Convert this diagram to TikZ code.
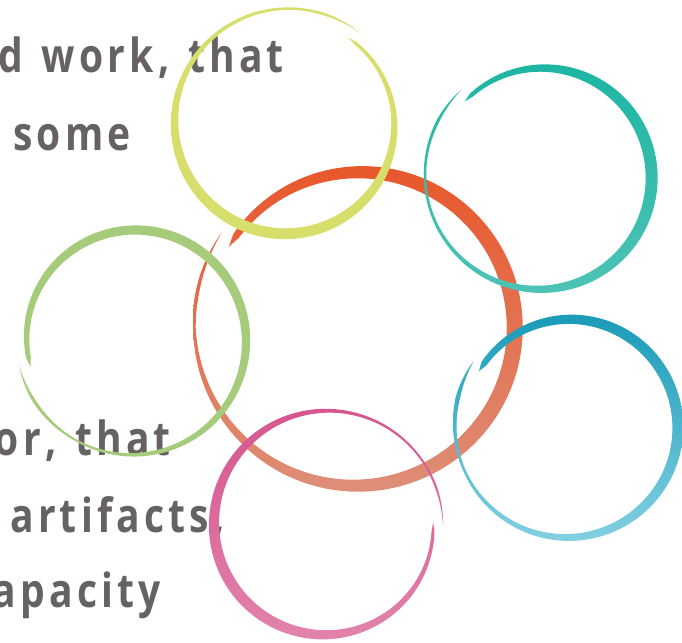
\documentclass[tikz,border=0pt]{standalone}
\usepackage{fontspec}
\newfontfamily\labelfont[FakeStretch=0.83,LetterSpace=9,WordSpace=1.3]{Open Sans}
\definecolor{txtgray}{HTML}{666262}
\definecolor{ringyellow}{HTML}{D7DE6C}
\definecolor{ringteal}{HTML}{1DB6A3}
\definecolor{ringteallight}{HTML}{4EC3B6}
\definecolor{ringblue}{HTML}{1A9BB8}
\definecolor{ringbluelight}{HTML}{82D0E2}
\definecolor{ringorange}{HTML}{E8572B}
\definecolor{ringorangelight}{HTML}{DE8E78}
\definecolor{ringpink}{HTML}{D6558E}
\definecolor{ringpinklight}{HTML}{E283AC}
\definecolor{ringgreen}{HTML}{A6CB7B}
\pgfkeys{/ring/.cd,
  cx/.store in=\rcx, cy/.store in=\rcy, R/.store in=\rR, dr/.store in=\rdr,
  ta/.store in=\rta, tb/.store in=\rtb, wmax/.store in=\rwmax, wmin/.store in=\rwmin,
  tp/.store in=\rtp, pw/.store in=\rpw, ts/.store in=\rts, te/.store in=\rte,
  ts=5, te=20, pw=1}
\newcommand\brushring[2]{%
  \pgfkeys{/ring/.cd,ts=5,te=20,pw=1,#1}%
  \path[#2]
    plot[domain=\rta:\rtb, samples=300, variable=\t, smooth]
      ({\rcx+(rr(\t)+rw(\t)/2)*cos(\t)}, {\rcy+(rr(\t)+rw(\t)/2)*sin(\t)})
    -- plot[domain=\rtb:\rta, samples=300, variable=\t, smooth]
      ({\rcx+(rr(\t)-rw(\t)/2)*cos(\t)}, {\rcy+(rr(\t)-rw(\t)/2)*sin(\t)})
    -- cycle;}
\tikzset{
  lbl/.style={font=\labelfont\bfseries\fontsize{47}{50}\selectfont,
    text=txtgray, inner sep=0pt, anchor=base east},
  declare function={
    rs(\t)=2*(\t-\rta)/(\rtb-\rta)-1;
    rr(\t)=\rR+\rdr*rs(\t)*abs(rs(\t));
    rw(\t)=(\rwmin+(\rwmax-\rwmin)*((1.0001+cos(\t-\rtp))/2.0002)^\rpw)
           *min(1,max(0,(\t-\rta)/\rts))*min(1,max(0,(\rtb-\t)/\rte));
  }
}
\begin{document}
\begin{tikzpicture}[x=1pt,y=-1pt]
\useasboundingbox (0,0) rectangle (682,642);
\clip (0,0) rectangle (682,642);
\fill[white] (0,0) rectangle (682,642);
% text
\node[lbl] (t1) at (284,72) {d work, that};
\node[lbl] (t2) at (131,150) {some};
\node[lbl] (t3) at (171,455) {or, that};
\node[lbl] (t4) at (225,532) {artifacts,};
\node[lbl] (t5) at (161,607) {apacity};
% central ring
\brushring{cx=357,cy=327,R=158,dr=7,ta=212,tb=575,wmax=16,wmin=2.5,tp=360,pw=0.5,te=25}
  {top color=ringorange,bottom color=ringorangelight}
% surrounding rings
\brushring{cx=286,cy=123,R=111,dr=5.5,ta=-54,tb=310,wmax=11,wmin=2.5,tp=100}
  {fill=ringyellow}
\brushring{cx=540,cy=177,R=112,dr=5.5,ta=225,tb=588,wmax=12,wmin=2.5,tp=360}
  {top color=ringteal,bottom color=ringteallight}
\brushring{cx=568,cy=427,R=110,dr=5,ta=212,tb=575,wmax=11,wmin=2.5,tp=340,pw=0.6}
  {top color=ringblue,bottom color=ringbluelight}
\brushring{cx=326,cy=524,R=112,dr=5,ta=-1,tb=361,wmax=11,wmin=2,tp=145}
  {top color=ringpink,bottom color=ringpinklight}
\brushring{cx=134,cy=341,R=112,dr=5.5,ta=166,tb=528,wmax=9.5,wmin=2,tp=300,pw=0.6}
  {fill=ringgreen}
\end{tikzpicture}
\end{document}
